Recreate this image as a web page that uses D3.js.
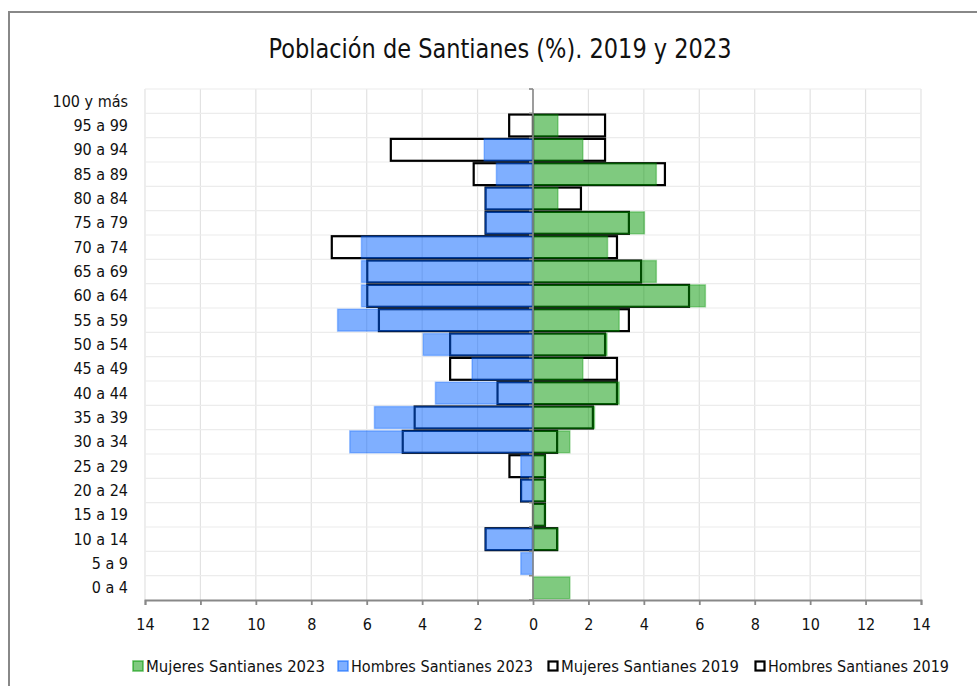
<!DOCTYPE html>
<html>
<head>
<meta charset="utf-8">
<script src="https://cdn.jsdelivr.net/npm/d3@7/dist/d3.min.js"></script>
<style>
  html, body { margin: 0; padding: 0; background: #fff; }
  svg { display: block; }
  text { font-family: "DejaVu Sans Condensed", "DejaVu Sans", sans-serif; fill: #111; }
</style>
</head>
<body>
<svg id="chart" width="977" height="686"></svg>
<script>
// ---- data (top row first) ----
const categories = ["100 y más","95 a 99","90 a 94","85 a 89","80 a 84","75 a 79","70 a 74","65 a 69","60 a 64","55 a 59","50 a 54","45 a 49","40 a 44","35 a 39","30 a 34","25 a 29","20 a 24","15 a 19","10 a 14","5 a 9","0 a 4"];
const mujeres2023 = [0, 0.90, 1.80, 4.45, 0.90, 4.02, 2.69, 4.45, 6.22, 3.11, 2.67, 1.80, 3.11, 2.22, 1.33, 0.45, 0.45, 0.45, 0.90, 0, 1.33];
const hombres2023 = [0, 0, 1.76, 1.32, 1.72, 1.72, 6.19, 6.19, 6.19, 7.05, 3.96, 2.20, 3.52, 5.72, 6.61, 0.44, 0.44, 0, 1.72, 0.44, 0];
const mujeres2019 = [0, 2.60, 2.60, 4.76, 1.73, 3.46, 3.03, 3.90, 5.63, 3.46, 2.60, 3.03, 3.03, 2.16, 0.87, 0.43, 0.43, 0.43, 0.87, 0, 0];
const hombres2019 = [0, 0.86, 5.13, 2.14, 1.71, 1.71, 7.26, 5.98, 5.98, 5.56, 2.99, 2.99, 1.28, 4.27, 4.70, 0.85, 0.43, 0, 1.71, 0, 0];
const xTicks = [-14,-12,-10,-8,-6,-4,-2,0,2,4,6,8,10,12,14];
const legendLabels = ["Mujeres Santianes 2023","Hombres Santianes 2023","Mujeres Santianes 2019","Hombres Santianes 2019"];
const title = "Población de Santianes (%). 2019 y 2023";

// ---- layout ----
const svg = d3.select("#chart");
const L = 145, R = 921, T = 89, B = 600;
const GREEN = "rgb(0,150,0)", BLUE = "rgb(0,96,255)";

// frame
svg.append("path").attr("d", `M9,700 V12 H990`).attr("fill","none").attr("stroke","#888").attr("stroke-width",2);

const x = d3.scaleLinear().domain([-14,14]).range([L,R]);
const yCat = d3.scaleBand().domain(categories).range([T,B]).padding(0);
const yBar = d3.scaleBand().domain(categories).range([T,B]).paddingInner(0.1).paddingOuter(0.05);

// grid
const g = svg.append("g");
g.selectAll("line.vg").data(xTicks).join("line")
  .attr("x1", d => x(d)).attr("x2", d => x(d)).attr("y1", T).attr("y2", B)
  .attr("stroke","#e2e2e2").attr("stroke-width",1.2);
const bounds = categories.map(c => yCat(c));
g.selectAll("line.hg").data(bounds).join("line")
  .attr("x1", L).attr("x2", R).attr("y1", d => d).attr("y2", d => d)
  .attr("stroke","#ececec").attr("stroke-width",1.2);

// 2019 outlines (drawn first)
const rows = categories.map((c,i) => ({c, m23: mujeres2023[i], h23: hombres2023[i], m19: mujeres2019[i], h19: hombres2019[i]}));
const o = svg.append("g");
o.selectAll("rect.m19").data(rows.filter(d => d.m19 > 0)).join("rect")
  .attr("x", x(0)).attr("width", d => x(d.m19) - x(0))
  .attr("y", d => yBar(d.c)).attr("height", yBar.bandwidth())
  .attr("fill","none").attr("stroke","#000").attr("stroke-width",2.2);
o.selectAll("rect.h19").data(rows.filter(d => d.h19 > 0)).join("rect")
  .attr("x", d => x(-d.h19)).attr("width", d => x(0) - x(-d.h19))
  .attr("y", d => yBar(d.c)).attr("height", yBar.bandwidth())
  .attr("fill","none").attr("stroke","#000").attr("stroke-width",2.2);

// 2023 semi-transparent bars
const f = svg.append("g");
f.selectAll("rect.m23").data(rows.filter(d => d.m23 > 0)).join("rect")
  .attr("x", x(0)).attr("width", d => x(d.m23) - x(0))
  .attr("y", d => yBar(d.c)).attr("height", yBar.bandwidth())
  .attr("fill", GREEN).attr("fill-opacity",0.5)
  .attr("stroke", GREEN).attr("stroke-opacity",0.35).attr("stroke-width",1.5);
f.selectAll("rect.h23").data(rows.filter(d => d.h23 > 0)).join("rect")
  .attr("x", d => x(-d.h23)).attr("width", d => x(0) - x(-d.h23))
  .attr("y", d => yBar(d.c)).attr("height", yBar.bandwidth())
  .attr("fill", BLUE).attr("fill-opacity",0.5)
  .attr("stroke", BLUE).attr("stroke-opacity",0.35).attr("stroke-width",1.5);

// vertical category axis at x=0
const ya = svg.append("g");
ya.append("line").attr("x1", x(0)).attr("x2", x(0)).attr("y1", T).attr("y2", B)
  .attr("stroke","#888").attr("stroke-width",1.6);
ya.selectAll("line.t").data(bounds.concat([B])).join("line")
  .attr("x1", x(0) - 4).attr("x2", x(0)).attr("y1", d => d).attr("y2", d => d)
  .attr("stroke","#888").attr("stroke-width",1.6);

// category labels
svg.append("g").selectAll("text").data(categories).join("text")
  .attr("x", 128).attr("y", d => yCat(d) + yCat.bandwidth()/2)
  .attr("dy","0.35em").attr("text-anchor","end")
  .style("font-size","16px").text(d => d);

// bottom axis
const xa = svg.append("g").attr("transform", `translate(0,${B})`)
  .call(d3.axisBottom(x).tickValues(xTicks).tickFormat(d => Math.abs(d)).tickSize(5).tickPadding(14));
xa.select(".domain").attr("stroke","#888").attr("stroke-width",1.8);
xa.selectAll(".tick line").attr("stroke","#888").attr("stroke-width",1.8);
xa.selectAll(".tick text").style("font-size","16px").style("font-family",'"DejaVu Sans Condensed", sans-serif').attr("fill","#111");

// title
svg.append("text").attr("x", 500).attr("y", 58).attr("text-anchor","middle")
  .style("font-size","26px").attr("textLength", 463).attr("lengthAdjust","spacingAndGlyphs")
  .text(title);

// legend
const legendX = [132, 337, 547, 754];
const legendW = [179, 182, 178, 181];
const lg = svg.append("g");
legendLabels.forEach((lab, i) => {
  const gx = legendX[i];
  if (i < 2) {
    const col = i === 0 ? GREEN : BLUE;
    lg.append("rect").attr("x", gx+1).attr("y", 661).attr("width", 10).attr("height", 10)
      .attr("fill", col).attr("fill-opacity",0.5).attr("stroke", col).attr("stroke-opacity",0.6).attr("stroke-width",1.5);
  } else {
    lg.append("rect").attr("x", gx+1.5).attr("y", 661.5).attr("width", 9).attr("height", 9)
      .attr("fill","#fff").attr("stroke","#000").attr("stroke-width",2.2);
  }
  lg.append("text").attr("x", gx + 14).attr("y", 666).attr("dy","0.35em")
    .style("font-size","16px").attr("textLength", legendW[i]).attr("lengthAdjust","spacingAndGlyphs")
    .text(lab);
});
</script>
</body>
</html>
